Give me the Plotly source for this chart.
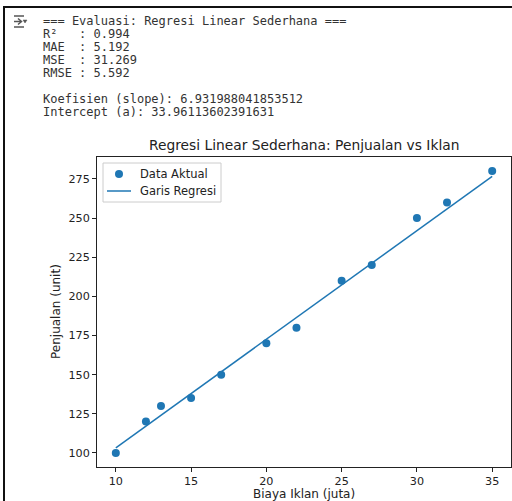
import plotly.graph_objects as go

# ---- data ----
biaya_iklan = [10, 12, 13, 15, 17, 20, 22, 25, 27, 30, 32, 35]
penjualan = [100, 120, 130, 135, 150, 170, 180, 210, 220, 250, 260, 280]
slope = 6.931988041853512
intercept = 33.96113602391631
x_ticks = [10, 15, 20, 25, 30, 35]
y_ticks = [100, 125, 150, 175, 200, 225, 250, 275]
legend_labels = ["Data Aktual", "Garis Regresi"]
console_lines = [
    "=== Evaluasi: Regresi Linear Sederhana ===",
    "R²   : 0.994",
    "MAE  : 5.192",
    "MSE  : 31.269",
    "RMSE : 5.592",
    "",
    "Koefisien (slope): 6.931988041853512",
    "Intercept (a): 33.96113602391631",
]
console_y = [21, 34, 47, 60, 73, 86, 99, 112]

pred = [slope * v + intercept for v in biaya_iklan]

W, H = 512, 501
L, R, T, B = 97, 511, 157, 467


def px(xp):
    return (xp - L) / (R - L)


def py(yp):
    return (B - yp) / (B - T)


blue = "#1f77b4"
ink = "#222222"

fig = go.Figure()
fig.add_trace(go.Scatter(
    x=biaya_iklan, y=penjualan, mode="markers", name=legend_labels[0],
    marker=dict(color=blue, size=8, line=dict(width=0)),
))
fig.add_trace(go.Scatter(
    x=biaya_iklan, y=pred, mode="lines", name=legend_labels[1],
    line=dict(color=blue, width=1.5),
))

annotations = []
for txt, yy in zip(console_lines, console_y):
    if not txt:
        continue
    annotations.append(dict(
        text=txt, xref="paper", yref="paper", x=px(42), y=py(yy),
        xanchor="left", yanchor="middle", showarrow=False, borderpad=0,
        font=dict(family="DejaVu Sans Mono", size=12, color="#333333"),
    ))
annotations.append(dict(
    text="Regresi Linear Sederhana: Penjualan vs Iklan",
    xref="paper", yref="paper", x=0.5, y=py(145), xanchor="center", yanchor="middle",
    showarrow=False, font=dict(family="DejaVu Sans", size=13.8, color=ink),
))
annotations.append(dict(
    text="Biaya Iklan (juta)", xref="paper", yref="paper", x=0.5, y=py(494),
    xanchor="center", yanchor="middle", showarrow=False,
    font=dict(family="DejaVu Sans", size=12, color=ink),
))
annotations.append(dict(
    text="Penjualan (unit)", xref="paper", yref="paper", x=px(56), y=py(312),
    xanchor="center", yanchor="middle", textangle=-90, showarrow=False,
    font=dict(family="DejaVu Sans", size=12, color=ink),
))
# legend texts
for lbl, yy in zip(legend_labels, [174, 191]):
    annotations.append(dict(
        text=lbl, xref="paper", yref="paper", x=px(139), y=py(yy),
        xanchor="left", yanchor="middle", showarrow=False, borderpad=0,
        font=dict(family="DejaVu Sans", size=11.5, color=ink),
    ))

shapes = [
    # screenshot frame
    dict(type="line", xref="paper", yref="paper", x0=px(4), x1=px(513), y0=py(7), y1=py(7),
         line=dict(color="#111111", width=2)),
    dict(type="line", xref="paper", yref="paper", x0=px(4), x1=px(4), y0=py(6), y1=py(502),
         line=dict(color="#111111", width=2)),
    # console output icon
    dict(type="line", xref="paper", yref="paper", x0=px(14), x1=px(24), y0=py(16), y1=py(16),
         line=dict(color="#555555", width=1.5)),
    dict(type="line", xref="paper", yref="paper", x0=px(14), x1=px(24), y0=py(27), y1=py(27),
         line=dict(color="#555555", width=1.5)),
    dict(type="line", xref="paper", yref="paper", x0=px(14), x1=px(21), y0=py(21.5), y1=py(21.5),
         line=dict(color="#555555", width=1.5)),
    dict(type="path", xref="paper", yref="paper",
         path=f"M {px(18)} {py(18.5)} L {px(21.5)} {py(21.5)} L {px(18)} {py(24.5)}",
         line=dict(color="#555555", width=1.5)),
    dict(type="path", xref="paper", yref="paper",
         path=f"M {px(23)} {py(20)} L {px(27)} {py(20)} L {px(25)} {py(23)} Z",
         fillcolor="#555555", line=dict(color="#555555", width=0.5)),
    # legend box
    dict(type="rect", xref="paper", yref="paper", x0=px(103), x1=px(221), y0=py(163), y1=py(202),
         fillcolor="rgba(255,255,255,0.8)", line=dict(color="#cccccc", width=1)),
    # legend marker + line
    dict(type="circle", xref="paper", yref="paper", x0=px(115), x1=px(123), y0=py(170), y1=py(178),
         fillcolor=blue, line=dict(width=0)),
    dict(type="line", xref="paper", yref="paper", x0=px(107), x1=px(131), y0=py(191), y1=py(191),
         line=dict(color=blue, width=1.5)),
]

fig.update_layout(
    width=W, height=H,
    margin=dict(l=L, r=W - R, t=T, b=H - B),
    paper_bgcolor="white", plot_bgcolor="white",
    font=dict(family="DejaVu Sans", size=11, color=ink),
    showlegend=False,
    annotations=annotations,
    shapes=shapes,
)
fig.update_xaxes(
    range=[8.75, 36.25], tickvals=x_ticks, showgrid=False, zeroline=False,
    showline=True, mirror=True, linecolor=ink, linewidth=1,
    ticks="outside", ticklen=4, tickcolor=ink, tickwidth=1,
    tickfont=dict(family="DejaVu Sans", size=11.2, color=ink),
)
fig.update_yaxes(
    range=[91, 289], tickvals=y_ticks, showgrid=False, zeroline=False,
    showline=True, mirror=True, linecolor=ink, linewidth=1,
    ticks="outside", ticklen=4, tickcolor=ink, tickwidth=1,
    tickfont=dict(family="DejaVu Sans", size=11.2, color=ink),
)

fig.write_html("out.html")
